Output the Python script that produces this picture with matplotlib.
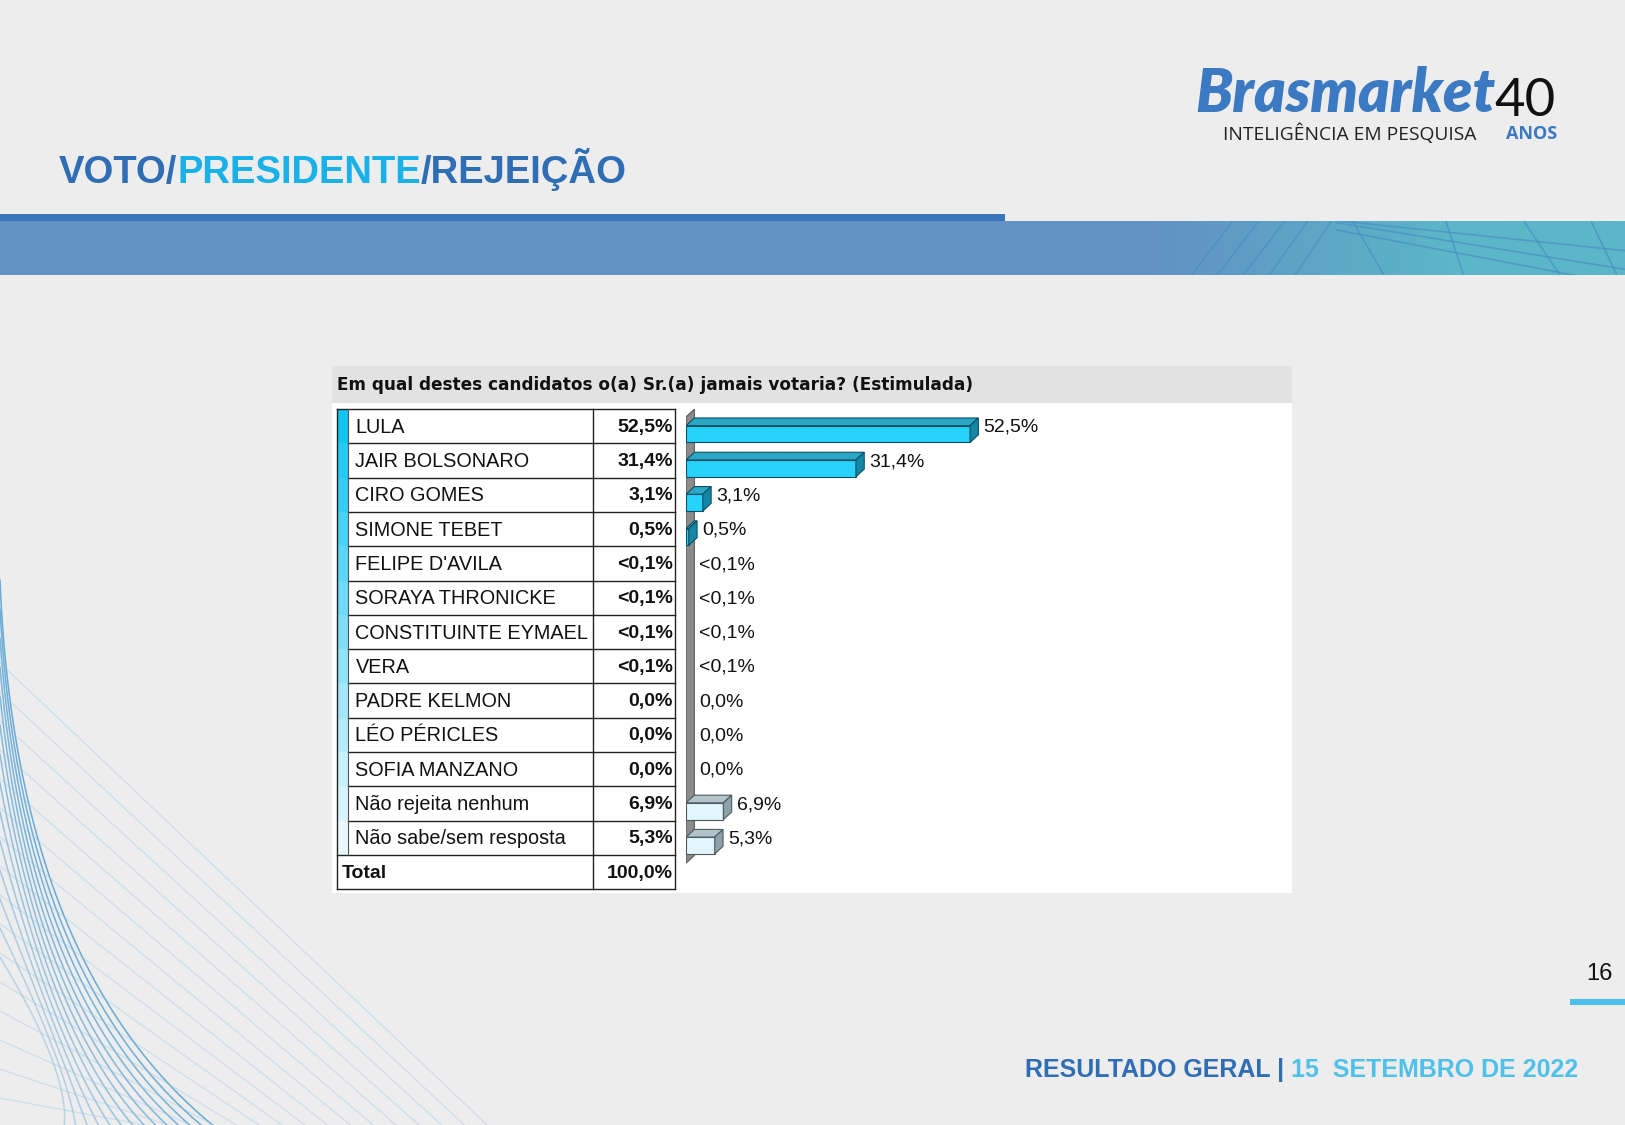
import numpy as np
import matplotlib
matplotlib.use("Agg")
import matplotlib.pyplot as plt
from matplotlib.patches import Rectangle, Polygon
from matplotlib.colors import to_rgb

# Data
question = "Em qual destes candidatos o(a) Sr.(a) jamais votaria? (Estimulada)"
names = ["LULA", "JAIR BOLSONARO", "CIRO GOMES", "SIMONE TEBET", "FELIPE D'AVILA",
         "SORAYA THRONICKE", "CONSTITUINTE EYMAEL", "VERA", "PADRE KELMON",
         "LÉO PÉRICLES", "SOFIA MANZANO", "Não rejeita nenhum", "Não sabe/sem resposta"]
values = [52.5, 31.4, 3.1, 0.5, 0, 0, 0, 0, 0, 0, 0, 6.9, 5.3]
value_labels = ["52,5%", "31,4%", "3,1%", "0,5%", "<0,1%", "<0,1%", "<0,1%", "<0,1%",
                "0,0%", "0,0%", "0,0%", "6,9%", "5,3%"]
total_label = "100,0%"

W, H = 1568, 1086  # layout units (same aspect as output)
fig = plt.figure(figsize=(16.25, 11.25), dpi=100)
fig.patch.set_facecolor("#ededed")
bg = fig.add_axes([0, 0, 1, 1])
bg.set_xlim(0, W)
bg.set_ylim(H, 0)
bg.axis("off")

DARK = "#2f6db5"
CYAN = "#1ab0e8"

# decorative curves bottom-left
t = np.linspace(0, 1, 200)
for k in range(14):
    p0 = np.array([0, 560 + k * 28])
    p1 = np.array([15 + k * 4, 930 + k * 8])
    p2 = np.array([205 - k * 11, H])
    c = ((1 - t) ** 2)[:, None] * p0 + (2 * (1 - t) * t)[:, None] * p1 + (t ** 2)[:, None] * p2
    bg.plot(c[:, 0], c[:, 1], color="#4f9fd2", lw=1.1, alpha=0.85 - k * 0.04)
for k in range(16):
    bg.plot([0, 470 - k * 22], [640 + k * 28, H], color="#8cc3e4", lw=0.9, alpha=0.35)

# header band
bg.add_patch(Rectangle((0, 207), 970, 6, color="#3a74b9", lw=0))
band = Rectangle((0, 213), W, 52, color="#6292c3", lw=0)
bg.add_patch(band)
grad = np.zeros((2, 256, 4))
grad[..., :3] = to_rgb("#5bb6c8")
grad[..., 3] = np.clip(np.linspace(-0.2, 1.6, 256), 0, 1)
bg.imshow(grad, extent=(1050, W, 265, 213), aspect="auto", zorder=2)
for x0, x1 in [(1190, 1150), (1215, 1175), (1240, 1200), (1262, 1225), (1285, 1250),
               (1305, 1335), (1395, 1412), (1470, 1505), (1535, 1560)]:
    ln, = bg.plot([x0, x1], [213, 265], color="#4a8fc4", lw=1.2, alpha=0.7, zorder=3)
    ln.set_clip_path(band)
for y0, y1 in [(215, 250), (222, 265), (213, 232)]:
    ln, = bg.plot([1290, W], [y0, y1 + 10], color="#4a8fc4", lw=1.2, alpha=0.7, zorder=3)
    ln.set_clip_path(band)
bg.set_xlim(0, W)
bg.set_ylim(H, 0)

renderer = fig.canvas.get_renderer()
inv = bg.transData.inverted()


def piece_texts(x, y, parts, ha="left", **kw):
    if ha == "left":
        for s, col in parts:
            tx = bg.text(x, y, s, color=col, ha="left", va="baseline", **kw)
            bb = tx.get_window_extent(renderer)
            x = inv.transform((bb.x1, bb.y0))[0]
    else:
        for s, col in reversed(parts):
            tx = bg.text(x, y, s, color=col, ha="right", va="baseline", **kw)
            bb = tx.get_window_extent(renderer)
            x = inv.transform((bb.x0, bb.y0))[0]


# title
piece_texts(57, 177, [("VOTO/", DARK), ("PRESIDENTE", CYAN), ("/REJEIÇÃO", DARK)],
            fontsize=27.5, fontweight="bold",
            family=["Liberation Sans Narrow", "Liberation Sans"])

# logo
bg.text(1153, 108, "Brasmarket", color="#3b7ac2", fontsize=43, fontweight="heavy",
        style="italic", family=["Lato", "DejaVu Sans"], va="baseline")
bg.text(1442, 112, "40", color="#111111", fontsize=38, fontweight="normal",
        family=["Lato", "DejaVu Sans"], va="baseline")
bg.text(1180, 129, "INTELIGÊNCIA EM PESQUISA", color="#222222", fontsize=13.9,
        family=["Open Sans", "DejaVu Sans"], va="center")
bg.text(1453, 129, "ANOS", color="#3b7ac2", fontsize=13, fontweight="bold",
        family=["Open Sans", "DejaVu Sans"], va="center")

# page number and footer
bg.text(1543, 940, "16", fontsize=17, ha="center", va="center", color="#111111",
        family=["Liberation Sans"])
bg.add_patch(Rectangle((1515, 964), 53, 6, color="#4cbfe9", lw=0))
piece_texts(1523, 1040, [("RESULTADO GERAL | ", DARK), ("15  SETEMBRO DE 2022", "#4fc0ea")],
            ha="right", fontsize=18, fontweight="bold", family=["Liberation Sans"])

# chart panel
bg.add_patch(Rectangle((320, 353), 927, 509, color="white", lw=0))
bg.add_patch(Rectangle((320, 353), 927, 36, color="#e2e2e2", lw=0))
bg.text(325, 372, question, fontsize=12.2, fontweight="bold", va="center",
        family=["DejaVu Sans"], color="#111111")

# table
top, rh = 395, 33.1
xl, xs, xc, xr = 325, 336, 572, 651
n = len(names)
c_top, c_bot = np.array(to_rgb("#12c6f4")), np.array(to_rgb("#eaf8fd"))
for i, name in enumerate(names):
    y0 = top + i * rh
    f = i / (n - 1)
    bg.add_patch(Rectangle((xl, y0), xs - xl, rh, color=c_top * (1 - f) + c_bot * f, lw=0))
    bg.text(343, y0 + rh / 2 + 1, name, fontsize=14.3, va="center",
            family=["Liberation Sans"], color="#111111")
    bg.text(xr - 1.5, y0 + rh / 2 + 1, value_labels[i], fontsize=14, va="center", ha="right",
            fontweight="bold", family=["Liberation Sans"], color="#111111")
y_tot = top + n * rh
bg.text(330, y_tot + rh / 2 + 1, "Total", fontsize=14, va="center", fontweight="bold",
        family=["Liberation Sans"], color="#111111")
bg.text(xr - 1.5, y_tot + rh / 2 + 1, total_label, fontsize=14, va="center", ha="right",
        fontweight="bold", family=["Liberation Sans"], color="#111111")
bottom = top + (n + 1) * rh
for k in range(n + 2):
    yy = top + k * rh
    x_start = xs if 0 < k < n else xl
    bg.plot([x_start if k != n else xl, xr], [yy, yy], color="#222222", lw=1)
bg.plot([xl, xl], [top, bottom], color="#222222", lw=1)
bg.plot([xs, xs], [top, top + n * rh], color="#555555", lw=0.8)
bg.plot([xc, xc], [top, bottom], color="#222222", lw=1)
bg.plot([xr, xr], [top, bottom], color="#222222", lw=1)

# bar chart axes
px_per_unit = 5.22
ax = fig.add_axes([662 / W, 1 - bottom / H, (1247 - 662) / W, (bottom - top) / H])
ax.set_xlim(0, (1247 - 662) / px_per_unit)
ax.set_ylim(n + 0.5, -0.5)
ax.axis("off")
dx = 8 / px_per_unit
dy = 7.4 / rh

ax.add_patch(Polygon([(0, -0.5 + dy), (dx, -0.5), (dx, n - 0.26 - dy), (0, n - 0.26)],
                     closed=True, facecolor="#8c8c8c", edgecolor="#5a5a5a", lw=0.8, zorder=1))

for i, v in enumerate(values):
    light = i >= n - 2
    front = "#e2f7fd" if light else "#27d2fb"
    topc = "#b3c3ca" if light else "#2aa6c6"
    side = "#8fa1a8" if light else "#1487a6"
    edge = "#4d5a60" if light else "#0d4f63"
    if v > 0:
        y_a, y_b = i - 0.02, i + 0.47
        ax.barh(i + 0.225, v, height=0.49, left=0, color=front, edgecolor=edge, lw=0.8, zorder=3)
        ax.add_patch(Polygon([(0, y_a), (v, y_a), (v + dx, y_a - dy), (dx, y_a - dy)],
                             closed=True, facecolor=topc, edgecolor=edge, lw=0.8, zorder=3))
        ax.add_patch(Polygon([(v, y_a), (v, y_b), (v + dx, y_b - dy), (v + dx, y_a - dy)],
                             closed=True, facecolor=side, edgecolor=edge, lw=0.8, zorder=3))
    ax.text(v + dx + 0.9, i + 0.03, value_labels[i], fontsize=14, va="center",
            family=["Liberation Sans"], color="#111111", zorder=4)

fig.savefig("out.png", dpi=100, facecolor=fig.get_facecolor())
